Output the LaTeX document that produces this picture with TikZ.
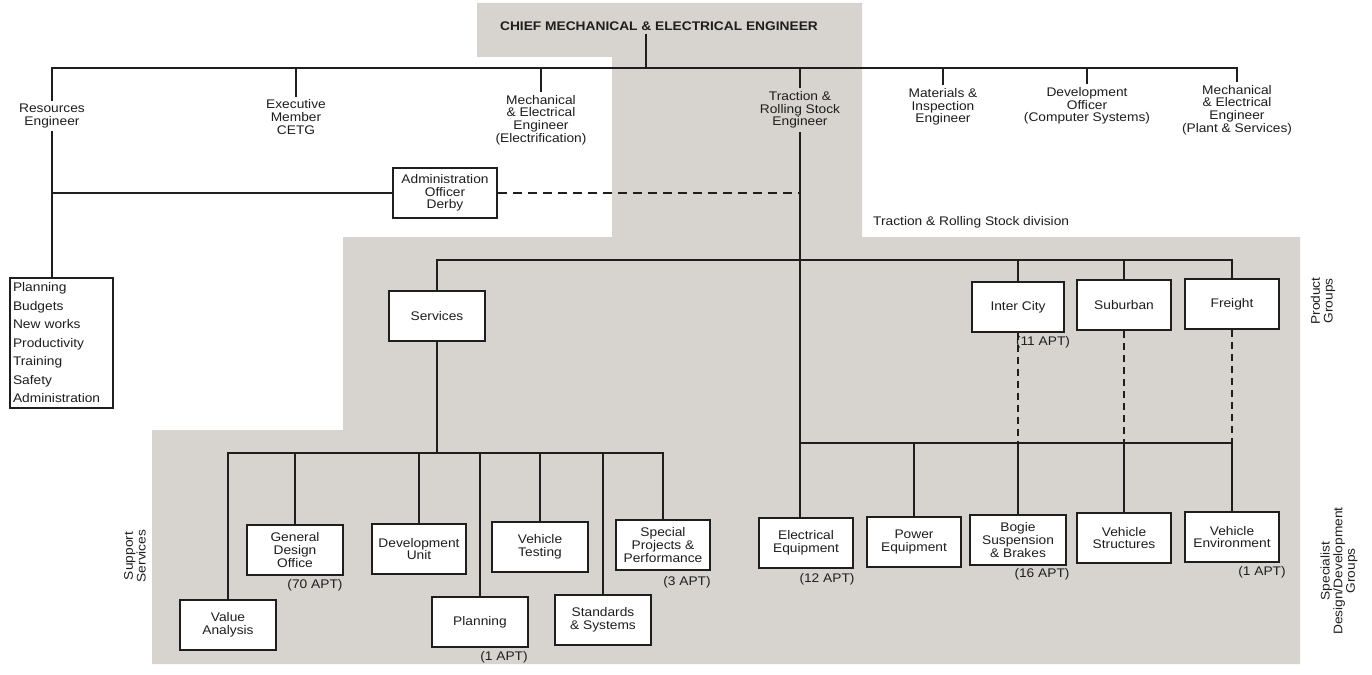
\documentclass[tikz,border=0pt]{standalone}
\usepackage{fontspec}
\newfontfamily\dfont[FakeStretch=1.1]{Liberation Sans}
\definecolor{panel}{RGB}{215,212,208}
\definecolor{ink}{RGB}{30,30,30}
\tikzset{
  ln/.style={line width=1.4pt, draw=ink},
  dsh/.style={line width=1.4pt, draw=ink, dash pattern=on 7pt off 5pt},
  lbl/.style={align=center, inner sep=3pt, text=ink, font=\dfont\fontsize{12.5}{12.7}\selectfont},
  box/.style={lbl, draw=ink, line width=1.6pt, fill=white, minimum width=94pt, minimum height=50pt, inner sep=2pt},
  note/.style={lbl, inner sep=1pt},
  side/.style={lbl, rotate=90, inner sep=1pt}
}
\begin{document}
\begin{tikzpicture}[x=1pt,y=-1pt]
\useasboundingbox (0,0) rectangle (1372,674);
\fill[white] (0,0) rectangle (1372,674);
% grey panels
\fill[panel] (477,3) -- (862,3) -- (862,237) -- (1300,237) -- (1300,664) -- (152,664)
  -- (152,430) -- (343,430) -- (343,237) -- (612,237) -- (612,57) -- (477,57) -- cycle;

% top level
\node[lbl, font=\dfont\bfseries\fontsize{12.5}{12.7}\selectfont] (chief) at (659,26) {CHIEF MECHANICAL \& ELECTRICAL ENGINEER};
\coordinate (topbar) at (646,68);
\node[lbl] (res) at (52,116) {Resources\\Engineer};
\node[lbl] (exec) at (296,117) {Executive\\Member\\CETG};
\node[lbl] (mee) at (541,120) {Mechanical\\\& Electrical\\Engineer\\(Electrification)};
\node[lbl] (trac) at (800,110) {Traction \&\\Rolling Stock\\Engineer};
\node[lbl] (mat) at (943,107) {Materials \&\\Inspection\\Engineer};
\node[lbl] (dev) at (1087,106) {Development\\Officer\\(Computer Systems)};
\node[lbl] (mep) at (1237,110) {Mechanical\\\& Electrical\\Engineer\\(Plant \& Services)};

\draw[ln] (topbar |- chief.south) -- (topbar);
\draw[ln] (res.north) |- (topbar) -| (mep.north);
\draw[ln] (exec.north) -- (exec.north |- topbar);
\draw[ln] (mee.north) -- (mee.north |- topbar);
\draw[ln] (trac.north) -- (trac.north |- topbar);
\draw[ln] (mat.north) -- (mat.north |- topbar);
\draw[ln] (dev.north) -- (dev.north |- topbar);

% resources branch
\node[box, align=left, text width=97pt, minimum height=130pt, inner sep=3pt,
  font=\dfont\fontsize{12.5}{18.5}\selectfont] (list) at (61.5,343)
  {Planning\\Budgets\\New works\\Productivity\\Training\\Safety\\Administration};
\draw[ln] (res.south) -- (res.south |- list.north);
\node[box, minimum width=104pt] (admin) at (445,193) {Administration\\Officer\\Derby};
\draw[ln] (res.south |- admin.west) -- (admin.west);
\draw[ln, dash pattern=on 9pt off 6pt] (admin.east) -- (trac.south |- admin.east);

% traction division
\node[lbl, anchor=west] (divlbl) at (870,222) {Traction \& Rolling Stock division};
\coordinate (pbar) at (800,260);
\coordinate (sbar) at (800,443);
\coordinate (supbar) at (437,453);

\node[box, minimum width=96pt] (serv) at (437,316) {Services};
\node[box, minimum width=92pt] (ic) at (1018,307) {Inter City};
\node[box] (sub) at (1124,305) {Suburban};
\node[box] (frt) at (1232,304) {Freight};
\node[note] (ic11) at (1043,342) {(11 APT)};

\draw[ln] (serv.north) |- (pbar) -| (frt.north);
\draw[ln] (ic.north) -- (ic.north |- pbar);
\draw[ln] (sub.north) -- (sub.north |- pbar);

% specialist groups
\node[box] (elec) at (806,543) {Electrical\\Equipment};
\node[box] (pow) at (914,542) {Power\\Equipment};
\node[box, minimum width=96pt] (bog) at (1018,540) {Bogie\\Suspension\\\& Brakes};
\node[box] (str) at (1124,538) {Vehicle\\Structures};
\node[box] (env) at (1232,537) {Vehicle\\Environment};
\node[note] (a12) at (827,579) {(12 APT)};
\node[note] (a16) at (1042,574) {(16 APT)};
\node[note] (a1e) at (1262,572) {(1 APT)};

\draw[ln] (trac.south) -- (trac.south |- elec.north);
\draw[ln] (sbar) -| (env.north);
\draw[ln] (pow.north) -- (pow.north |- sbar);
\draw[ln] (bog.north) -- (bog.north |- sbar);
\draw[ln] (str.north) -- (str.north |- sbar);
\draw[dsh] (ic.south) -- (ic.south |- sbar);
\draw[dsh] (sub.south) -- (sub.south |- sbar);
\draw[dsh] (frt.south) -- (frt.south |- sbar);

% support services
\node[box, minimum width=96pt] (va) at (228,625) {Value\\Analysis};
\node[box, minimum width=96pt] (gdo) at (295,550) {General\\Design\\Office};
\node[box] (du) at (419,549) {Development\\Unit};
\node[box, minimum width=96pt] (pln) at (480,622) {Planning};
\node[box, minimum width=96pt] (vt) at (540,547) {Vehicle\\Testing};
\node[box, minimum width=96pt] (ss) at (603,620) {Standards\\\& Systems};
\node[box] (spp) at (663,545) {Special\\Projects \&\\Performance};
\node[note] (a70) at (315,585) {(70 APT)};
\node[note] (a1p) at (504,657) {(1 APT)};
\node[note] (a3) at (687,582) {(3 APT)};

\draw[ln] (serv.south) -- (supbar);
\draw[ln] (va.north) |- (supbar) -| (spp.north);
\draw[ln] (gdo.north) -- (gdo.north |- supbar);
\draw[ln] (du.north) -- (du.north |- supbar);
\draw[ln] (pln.north) -- (pln.north |- supbar);
\draw[ln] (vt.north) -- (vt.north |- supbar);
\draw[ln] (ss.north) -- (ss.north |- supbar);

% side labels
\node[side] (sup) at (135,556) {Support\\Services};
\node[side] (prod) at (1323,301) {Product\\Groups};
\node[side] (spec) at (1339,571) {Specialist\\Design/Development\\Groups};
\end{tikzpicture}
\end{document}
